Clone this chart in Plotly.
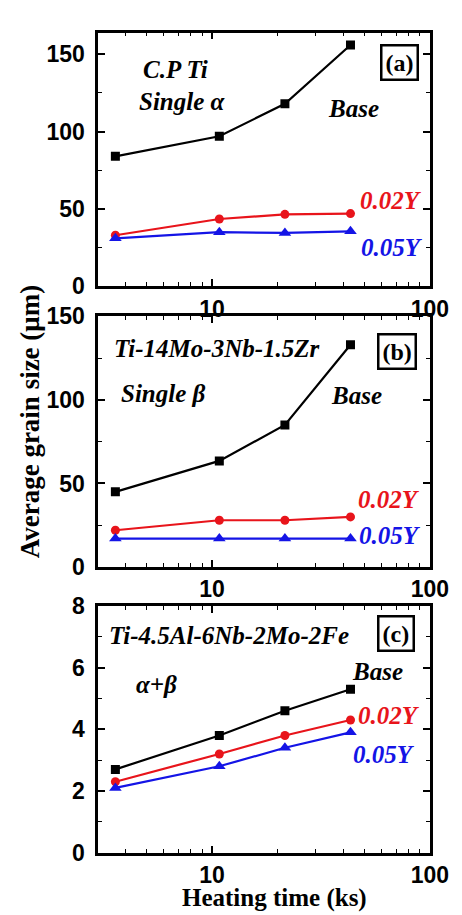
import plotly.graph_objects as go
import math

# Data
time_ks = [3.6, 10.8, 21.6, 43.2]
a_base = [84, 97, 118, 156]
a_002y = [33, 43.5, 46.5, 47]
a_005y = [31, 35, 34.5, 35.5]
b_base = [45, 63.5, 85, 133]
b_002y = [22, 28, 28, 30]
b_005y = [17, 17, 17, 17]
c_base = [2.7, 3.8, 4.6, 5.3]
c_002y = [2.3, 3.2, 3.8, 4.3]
c_005y = [2.1, 2.8, 3.4, 3.9]

W, H = 462, 915
fig = go.Figure()

def px(x):
    return x / W

def py(y):
    return 1 - y / H

serif = "Liberation Serif"
sans = "Liberation Sans"

panels = [
    ("", a_base, a_002y, a_005y, [0, 164], 50, 25, (12, 273)),
    ("2", b_base, b_002y, b_005y, [0, 150], 50, 25, (304, 562)),
    ("3", c_base, c_002y, c_005y, [0, 8], 2, 1, (602, 856)),
]

for suf, base, y2, y5, yr, dt, mdt, (top, bot) in panels:
    xa = "x" + suf
    ya = "y" + suf
    for vals, col, sym, sz in [(base, "black", "square", 9),
                               (y2, "#e8141b", "circle", 9),
                               (y5, "#1414e6", "triangle-up", 11)]:
        fig.add_trace(go.Scatter(x=time_ks, y=vals, mode="lines+markers",
                                 xaxis=xa, yaxis=ya,
                                 line=dict(color=col, width=2.2),
                                 marker=dict(symbol=sym, size=sz, color=col),
                                 showlegend=False, hoverinfo="skip"))
    axkw = dict(showline=True, linecolor="black", linewidth=2.5, mirror="allticks",
                ticks="inside", ticklen=7, tickwidth=1.5, tickcolor="black",
                showgrid=False, zeroline=False,
                tickfont=dict(family=sans, size=23, color="black", weight="bold"))
    xkey = "xaxis" + suf
    ykey = "yaxis" + suf
    fig.layout[xkey] = dict(type="log", range=[math.log10(3), 2],
                            domain=[px(94), px(440)], anchor=ya,
                            tickvals=[10, 100], ticktext=["10", "100"],
                            ticklabelstandoff=0,
                            minor=dict(ticks="inside", ticklen=4, tickwidth=1.2,
                                       tickcolor="black", tickvals=[3, 4, 5, 6, 7, 8, 9, 20, 30, 40, 50, 60, 70, 80, 90]),
                            **axkw)
    fig.layout[ykey] = dict(range=yr, dtick=dt, tick0=0,
                            domain=[py(bot), py(top)], anchor=xa,
                            ticklabelstandoff=6,
                            minor=dict(ticks="inside", ticklen=4, tickwidth=1.2,
                                       tickcolor="black", dtick=mdt),
                            **axkw)

def ann(text, x, y, color="black", size=25, italic=True, box=False, xanchor="center"):
    fig.add_annotation(text=text, x=px(x), y=py(y), xref="paper", yref="paper",
                       showarrow=False, xanchor=xanchor, yanchor="middle",
                       font=dict(family=serif, size=size, color=color, weight="bold",
                                 style="italic" if italic else "normal"),
                       bordercolor="black" if box else None,
                       borderwidth=2.5 if box else 0,
                       borderpad=3)

# Panel a
ann("C.P Ti", 175, 50)
ann("Single α", 182, 83)
ann("Base", 360, 90)
ann("(a)", 408, 43, italic=False, box=True, size=24)
ann("0.02Y", 399, 185, color="#e8141b")
ann("0.05Y", 400, 233, color="#1414e6")
# Panel b
ann("Ti-14Mo-3Nb-1.5Zr", 218, 337)
ann("Single β", 162, 383)
ann("Base", 363, 385)
ann("(b)", 406, 340, italic=False, box=True, size=24)
ann("0.02Y", 397, 492, color="#e8141b")
ann("0.05Y", 398, 530, color="#1414e6")
# Panel c
ann("Ti-4.5Al-6Nb-2Mo-2Fe", 230, 632)
ann("(c)", 405, 630, italic=False, box=True, size=24)
ann("Base", 385, 670)
ann("α+β", 155, 683)
ann("0.02Y", 397, 715, color="#e8141b")
ann("0.05Y", 392, 755, color="#1414e6")

# Axis titles
fig.add_annotation(text="Average grain size (μm)", x=px(23), y=py(413), xref="paper", yref="paper",
                   showarrow=False, textangle=-90, xanchor="center", yanchor="middle",
                   font=dict(family=serif, size=27, color="black", weight="bold"))
fig.add_annotation(text="Heating time (ks)", x=px(278), y=py(903), xref="paper", yref="paper",
                   showarrow=False, xanchor="center", yanchor="middle",
                   font=dict(family=serif, size=25, color="black", weight="bold"))

fig.update_layout(width=W, height=H, margin=dict(l=0, r=0, t=0, b=0),
                  paper_bgcolor="white", plot_bgcolor="white")

fig.write_html("out.html")
